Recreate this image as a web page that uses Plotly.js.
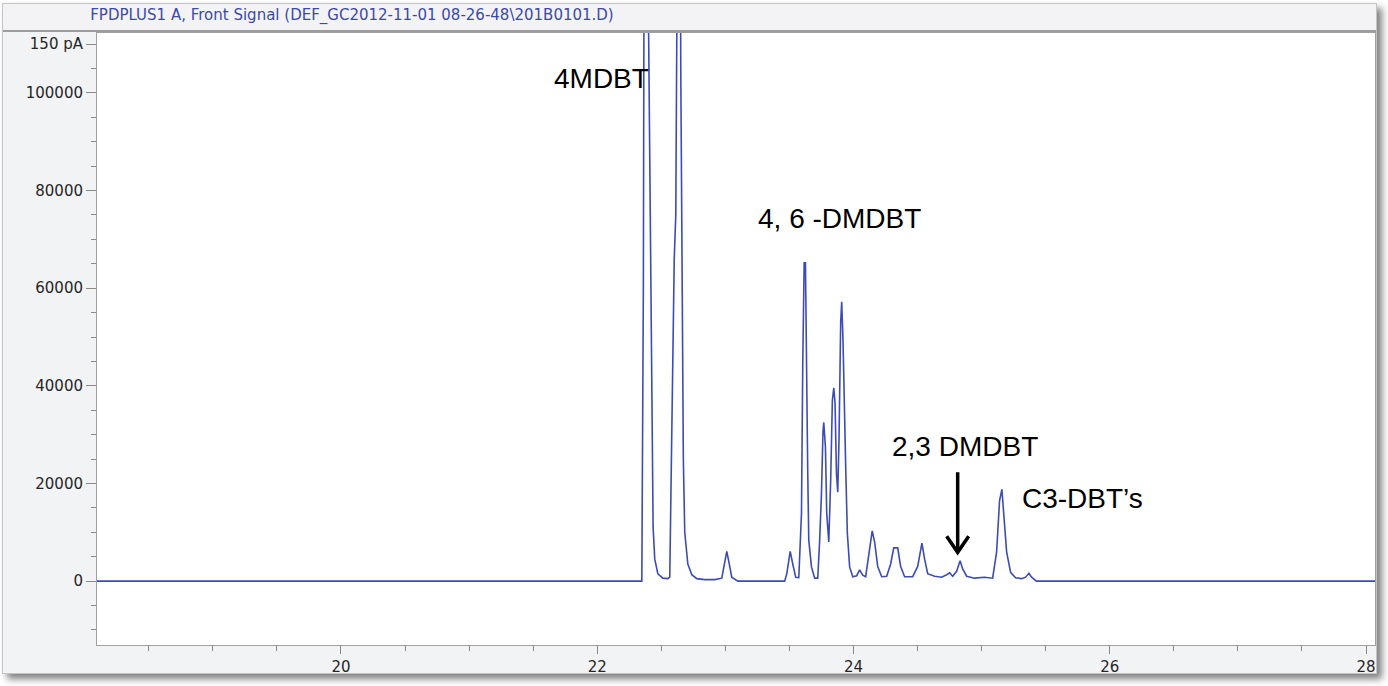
<!DOCTYPE html>
<html>
<head>
<meta charset="utf-8">
<script src="https://cdn.plot.ly/plotly-3.0.1.min.js"></script>
<style>
  html, body { margin:0; padding:0; background:#ffffff; width:1388px; height:686px; overflow:hidden; }
  #frame { position:absolute; left:2px; top:3px; width:1373px; height:669px; background:#f2f3f5;
           border:1px solid #c4c4c4; box-shadow:5px 5px 7px rgba(0,0,0,0.5); }
  #bar { position:absolute; left:3px; top:4px; width:1373px; height:26px; background:#f3f3f5;
         border-bottom:2px solid #9c9c9c; }
  #chart { position:absolute; left:0; top:0; width:1388px; height:686px; }
</style>
</head>
<body>
<div id="frame"></div>
<div id="bar"></div>
<div id="chart"></div>
<script>
// Retention time (min) and FPD signal
const retentionTime = [18.096, 22.348, 22.360, 22.371, 22.395, 22.410, 22.422, 22.436, 22.449, 22.473,
  22.512, 22.551, 22.566, 22.574, 22.586, 22.594, 22.601, 22.613, 22.625, 22.640,
  22.652, 22.664, 22.672, 22.683, 22.707, 22.738, 22.777, 22.839, 22.917, 22.972,
  22.995, 23.011, 23.027, 23.050, 23.097, 23.463, 23.479, 23.506, 23.526, 23.549,
  23.573, 23.594, 23.604, 23.615, 23.625, 23.631, 23.643, 23.651, 23.672, 23.697,
  23.721, 23.736, 23.750, 23.762, 23.768, 23.781, 23.791, 23.807, 23.822, 23.835,
  23.846, 23.856, 23.867, 23.877, 23.887, 23.900, 23.908, 23.918, 23.926, 23.939,
  23.952, 23.970, 23.994, 24.025, 24.048, 24.072, 24.095, 24.119, 24.146, 24.165,
  24.189, 24.220, 24.259, 24.290, 24.314, 24.345, 24.368, 24.399, 24.462, 24.501,
  24.534, 24.555, 24.579, 24.633, 24.688, 24.727, 24.750, 24.774, 24.805, 24.832,
  24.852, 24.883, 24.945, 25.023, 25.086, 25.117, 25.140, 25.158, 25.172, 25.195,
  25.226, 25.265, 25.312, 25.343, 25.369, 25.390, 25.427, 28.070];
const signal = [0, 0, 60000, 200000, 130000, 90000, 50000, 11000, 4500, 1500,
  600, 500, 800, 15000, 45000, 60000, 66000, 75000, 180000, 200000,
  105000, 50000, 25000, 10000, 3500, 1300, 500, 300, 300, 600,
  3500, 6100, 4000, 800, 0, 0, 1500, 6100, 3500, 800,
  700, 13900, 44600, 65200, 65200, 44600, 22100, 8400, 2900, 600,
  600, 8400, 18000, 30700, 32500, 27400, 13900, 8000, 20700, 37000,
  39600, 36400, 22100, 18200, 29000, 53000, 57200, 49500, 35800, 23500,
  9800, 2900, 900, 1100, 2300, 1200, 900, 5500, 10300, 8000,
  3000, 900, 1000, 3500, 6800, 6800, 3000, 900, 900, 3000,
  7800, 4500, 1500, 1000, 800, 1300, 1700, 1000, 2000, 4150,
  2500, 1000, 600, 800, 600, 6000, 16500, 18800, 14000, 6000,
  1800, 700, 500, 800, 1600, 800, 0, 0];

const xTickVals = [20, 22, 24, 26, 28];
const yTickVals = [0, 20000, 40000, 60000, 80000, 100000, 110000];
const yTickText = ['0', '20000', '40000', '60000', '80000', '100000', '150 pA'];

const peakLabels = ['4MDBT', '4, 6 -DMDBT', '2,3 DMDBT', 'C3-DBT\u2019s'];
const peakLabelX = [22.03, 23.892, 24.867, 25.784];
const peakLabelY = [103000, 74200, 27600, 17000];

const arrowX = 24.813;
const arrowTail = 22300;
const arrowTip = 5900;

const titleText = 'FPDPLUS1 A, Front Signal (DEF_GC2012-11-01 08-26-48\\201B0101.D)';

const trace = {
  x: retentionTime, y: signal, type: 'scatter', mode: 'lines',
  line: { color: '#3d4cb5', width: 1.6 }, hoverinfo: 'skip'
};

const annFont = { family: 'Liberation Sans, Arial, sans-serif', size: 28, color: '#000000' };
const annotations = peakLabels.map((t, i) => ({
  x: peakLabelX[i], y: peakLabelY[i], xref: 'x', yref: 'y', text: t,
  showarrow: false, font: annFont, xanchor: 'center', yanchor: 'middle'
}));

const tickFont = { family: 'DejaVu Sans, sans-serif', size: 15, color: '#262626' };

const layout = {
  width: 1388, height: 686,
  margin: { l: 97, r: 13, t: 33, b: 41, pad: 0 },
  paper_bgcolor: 'rgba(0,0,0,0)', plot_bgcolor: '#ffffff',
  showlegend: false,
  title: { text: titleText, font: { family: 'DejaVu Sans, sans-serif', size: 15, color: '#3b4aa6' },
           x: 0.2536, xref: 'container', xanchor: 'center', y: 0.979, yref: 'container', yanchor: 'middle' },
  xaxis: {
    range: [18.096, 28.07], tickmode: 'array', tickvals: xTickVals,
    ticks: 'outside', ticklen: 8, tickcolor: '#8a8a8a', tickwidth: 1,
    showline: true, linecolor: '#a0a0a0', linewidth: 1, mirror: true,
    showgrid: false, zeroline: false, tickfont: tickFont,
    minor: { tickmode: 'linear', tick0: 0, dtick: 0.5, ticks: 'outside', ticklen: 5, tickcolor: '#8a8a8a', showgrid: false }
  },
  yaxis: {
    range: [-13090, 112270], tickmode: 'array', tickvals: yTickVals, ticktext: yTickText,
    ticks: 'outside', ticklen: 10, tickcolor: '#8a8a8a', tickwidth: 1,
    showline: true, linecolor: '#a0a0a0', linewidth: 1, mirror: true,
    showgrid: false, zeroline: false, tickfont: tickFont,
    minor: { tickmode: 'linear', tick0: 0, dtick: 5000, ticks: 'outside', ticklen: 5, tickcolor: '#8a8a8a', showgrid: false }
  },
  annotations: annotations,
  shapes: [
    { type: 'line', xref: 'x', yref: 'y', x0: arrowX, x1: arrowX, y0: arrowTail, y1: arrowTip + 400,
      line: { color: '#000000', width: 3.5 } },
    { type: 'path', xref: 'x', yref: 'y',
      path: 'M ' + (arrowX - 0.086) + ',' + (arrowTip + 3300) + ' L ' + arrowX + ',' + arrowTip + ' L ' + (arrowX + 0.086) + ',' + (arrowTip + 3300),
      line: { color: '#000000', width: 3.5 } }
  ]
};

Plotly.newPlot('chart', [trace], layout, { staticPlot: true, displayModeBar: false });
</script>
</body>
</html>
